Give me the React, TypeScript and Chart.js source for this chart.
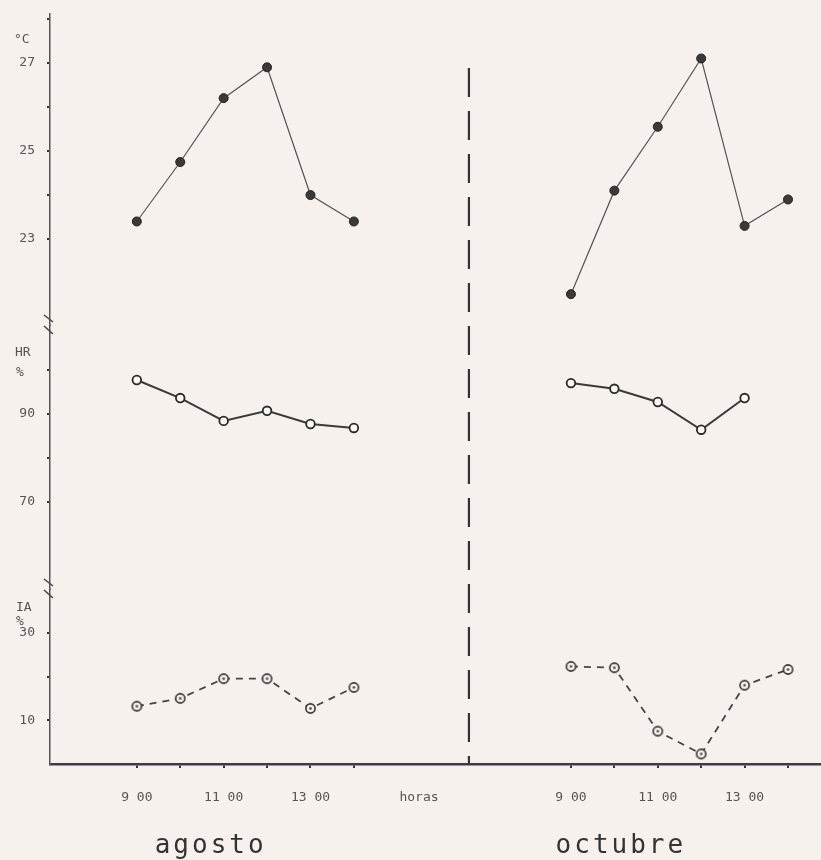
import React, { useEffect, useRef } from "react";
import { Chart, registerables } from "chart.js";

Chart.register(...registerables);

// ---- data ----
const hours = [9, 10, 11, 12, 13, 14];
const tempAgosto = [23.4, 24.75, 26.2, 26.9, 24.0, 23.4];
const tempOctubre = [21.75, 24.1, 25.55, 27.1, 23.3, 23.9];
const hrAgosto = [97.7, 93.6, 88.4, 90.7, 87.7, 86.8];
const hrOctubre = [97.0, 95.7, 92.7, 86.4, 93.6];
const iaAgosto = [13.2, 15.0, 19.5, 19.5, 12.7, 17.5];
const iaOctubre = [22.3, 22.0, 7.5, 2.3, 18.0, 21.6];
const hourTickLabels = ["9 00", "", "11 00", "", "13 00", ""];
const monthNames = ["agosto", "octubre"];
const monthOffsets = [0, 10];
const monthLabelAt = [1.7, 11.15];
const horasLabel = "horas";
const horasAt = 6.5;
const separatorAt = 7.65;
const tempTicks = [23, 24, 25, 26, 27, 28];
const tempTickLabels = ["23", "", "25", "", "27", ""];
const hrTicks = [70, 80, 90, 100];
const hrTickLabels = ["70", "", "90", ""];
const iaTicks = [10, 20, 30];
const iaTickLabels = ["10", "", "30"];

const BG = "#f6f1ec";
const FONT = "'DejaVu Sans Mono', monospace";

const pts = (vals: number[], offset: number) =>
  vals.map((v, i) => ({ x: hours[i] - 9 + offset, y: v }));

function makeIaPoint(): HTMLCanvasElement {
  const c = document.createElement("canvas");
  c.width = 13;
  c.height = 13;
  const g = c.getContext("2d")!;
  g.fillStyle = BG;
  g.beginPath();
  g.arc(6.5, 6.5, 4.6, 0, Math.PI * 2);
  g.fill();
  g.lineWidth = 1.6;
  g.strokeStyle = "#333";
  g.stroke();
  g.fillStyle = "#444";
  g.beginPath();
  g.arc(6.5, 6.5, 1.3, 0, Math.PI * 2);
  g.fill();
  return c;
}

const decorPlugin = {
  id: "decor",
  beforeDraw(chart: any) {
    const ctx = chart.ctx;
    ctx.save();
    ctx.fillStyle = BG;
    ctx.fillRect(0, 0, chart.width, chart.height);
    ctx.restore();
  },
  afterDraw(chart: any) {
    const ctx = chart.ctx;
    const xs = chart.scales.x;
    const yT = chart.scales.yT;
    const yH = chart.scales.yH;
    const yI = chart.scales.yI;
    const axisX = chart.chartArea.left;
    ctx.save();
    // axis titles
    ctx.fillStyle = "#555";
    ctx.font = `13px ${FONT}`;
    ctx.textBaseline = "middle";
    ctx.textAlign = "left";
    ctx.fillText("°C", 14, yT.top + 26);
    ctx.fillText("HR", 15, yH.top + 28);
    ctx.fillText("%", 16, yH.top + 48);
    ctx.fillText("IA", 16, yI.top + 19);
    ctx.fillText("%", 16, yI.top + 33);
    // breaks
    ctx.strokeStyle = "#444";
    ctx.lineWidth = 1.5;
    [yH.top, yI.top].forEach((b: number) => {
      ctx.beginPath();
      ctx.moveTo(axisX - 6, b - 10);
      ctx.lineTo(axisX + 3, b - 3);
      ctx.moveTo(axisX - 6, b + 1);
      ctx.lineTo(axisX + 3, b + 9);
      ctx.stroke();
    });
    // separator
    const sx = xs.getPixelForValue(separatorAt);
    ctx.strokeStyle = "#333";
    ctx.lineWidth = 2.2;
    ctx.setLineDash([29, 14]);
    ctx.beginPath();
    ctx.moveTo(sx, yT.top + 54);
    ctx.lineTo(sx, yI.bottom);
    ctx.stroke();
    ctx.setLineDash([]);
    // month labels
    ctx.fillStyle = "#333";
    ctx.font = `26px ${FONT}`;
    (ctx as any).letterSpacing = "3px";
    ctx.textAlign = "center";
    ctx.textBaseline = "alphabetic";
    monthNames.forEach((m, i) => {
      ctx.fillText(m, xs.getPixelForValue(monthLabelAt[i]), 853);
    });
    ctx.restore();
  },
};

export default function App() {
  const ref = useRef<HTMLCanvasElement>(null);
  useEffect(() => {
    if (!ref.current) return;
    const iaPoint = makeIaPoint();
    const xTickValues = [
      ...hours.map((h) => h - 9 + monthOffsets[0]),
      horasAt,
      ...hours.map((h) => h - 9 + monthOffsets[1]),
    ];
    const xLabel = (v: number) => {
      if (Math.abs(v - horasAt) < 1e-6) return horasLabel;
      for (const off of monthOffsets) {
        const idx = hours.findIndex((h) => Math.abs(h - 9 + off - v) < 1e-6);
        if (idx >= 0) return hourTickLabels[idx];
      }
      return "";
    };
    const yLabel = (ticks: number[], labels: string[]) => (v: any) => {
      const i = ticks.indexOf(Number(v));
      return i >= 0 ? labels[i] : "";
    };
    const tickFont = { family: FONT, size: 13 };
    const yCommon = (ticks: number[], labels: string[]) => ({
      type: "linear" as const,
      position: "left" as const,
      stack: "left",
      offset: false,
      afterFit: (s: any) => {
        s.width = 50;
        s.paddingTop = 0;
        s.paddingBottom = 0;
      },
      afterBuildTicks: (s: any) => {
        s.ticks = ticks.map((v) => ({ value: v }));
      },
      ticks: {
        callback: yLabel(ticks, labels),
        font: tickFont,
        color: "#555",
        padding: 12,
        autoSkip: false,
      },
      grid: {
        drawOnChartArea: false,
        drawTicks: true,
        tickLength: 3,
        tickColor: "#333",
        lineWidth: 2,
      },
      border: { color: "#555", width: 1.5 },
    });

    const chart = new Chart(ref.current, {
      type: "line",
      data: {
        datasets: [
          {
            data: pts(tempAgosto, monthOffsets[0]),
            yAxisID: "yT",
            borderColor: "#555",
            borderWidth: 1.2,
            pointRadius: 4.5,
            pointBackgroundColor: "#3a3a3a",
            pointBorderColor: "#222",
            pointBorderWidth: 1,
          },
          {
            data: pts(tempOctubre, monthOffsets[1]),
            yAxisID: "yT",
            borderColor: "#555",
            borderWidth: 1.2,
            pointRadius: 4.5,
            pointBackgroundColor: "#3a3a3a",
            pointBorderColor: "#222",
            pointBorderWidth: 1,
          },
          {
            data: pts(hrAgosto, monthOffsets[0]),
            yAxisID: "yH",
            borderColor: "#3a3a3a",
            borderWidth: 2,
            pointRadius: 4.3,
            pointBackgroundColor: "#fbf9f6",
            pointBorderColor: "#2a2a2a",
            pointBorderWidth: 1.8,
          },
          {
            data: pts(hrOctubre, monthOffsets[1]),
            yAxisID: "yH",
            borderColor: "#3a3a3a",
            borderWidth: 2,
            pointRadius: 4.3,
            pointBackgroundColor: "#fbf9f6",
            pointBorderColor: "#2a2a2a",
            pointBorderWidth: 1.8,
          },
          {
            data: pts(iaAgosto, monthOffsets[0]),
            yAxisID: "yI",
            borderColor: "#444",
            borderWidth: 1.8,
            borderDash: [7, 6],
            pointStyle: iaPoint,
          },
          {
            data: pts(iaOctubre, monthOffsets[1]),
            yAxisID: "yI",
            borderColor: "#444",
            borderWidth: 1.8,
            borderDash: [7, 6],
            pointStyle: iaPoint,
          },
        ],
      },
      options: {
        animation: false,
        responsive: false,
        events: [],
        layout: { autoPadding: false, padding: { top: 14, left: 0, right: 0, bottom: 0 } },
        plugins: {
          legend: { display: false },
          tooltip: { enabled: false },
        },
        elements: { line: { tension: 0 } },
        scales: {
          x: {
            type: "linear",
            min: -2,
            max: 15.76,
            afterFit: (s: any) => {
              s.height = 96;
              s.paddingLeft = 0;
              s.paddingRight = 0;
            },
            afterBuildTicks: (s: any) => {
              s.ticks = xTickValues.map((v) => ({ value: v }));
            },
            ticks: {
              autoSkip: false,
              maxRotation: 0,
              callback: (v: any) => xLabel(Number(v)),
              font: tickFont,
              color: "#555",
              padding: 22,
            },
            grid: {
              drawOnChartArea: false,
              tickLength: 4,
              lineWidth: 2,
              tickColor: (c: any) =>
                c.tick && Math.abs(c.tick.value - horasAt) < 1e-6 ? "rgba(0,0,0,0)" : "#333",
            },
            border: { color: "#3a3a48", width: 2.5 },
          },
          // stacked left scales: the first one defined sits at the bottom
          yI: { ...yCommon(iaTicks, iaTickLabels), min: 0, max: 40, stackWeight: 175 },
          yH: { ...yCommon(hrTicks, hrTickLabels), min: 50.2, max: 110.2, stackWeight: 264 },
          yT: { ...yCommon(tempTicks, tempTickLabels), min: 21.05, max: 28.11, stackWeight: 311 },
        } as any,
      },
      plugins: [decorPlugin],
    });
    return () => chart.destroy();
  }, []);

  return (
    <div style={{ position: "fixed", left: 0, top: 0, width: 821, height: 860, background: BG }}>
      <canvas ref={ref} width={821} height={860} style={{ display: "block" }} />
    </div>
  );
}
